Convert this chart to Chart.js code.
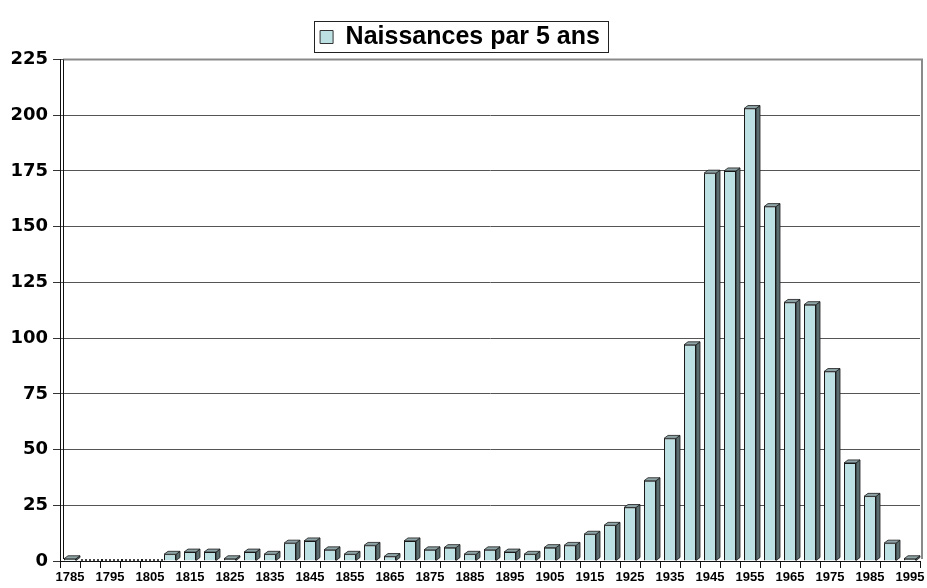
<!DOCTYPE html>
<html>
<head>
<meta charset="utf-8">
<title>Naissances par 5 ans</title>
<script src="https://cdn.jsdelivr.net/npm/chart.js@4/dist/chart.umd.min.js"></script>
<style>
  html, body { margin: 0; padding: 0; background: #ffffff; }
  #wrap { width: 927px; height: 588px; }
</style>
</head>
<body>
<div id="wrap"><canvas id="c" width="927" height="588"></canvas></div>
<script>
// Five-year periods (start year of each period)
const periods = ['1785','1790','1795','1800','1805','1810','1815','1820','1825','1830',
  '1835','1840','1845','1850','1855','1860','1865','1870','1875','1880',
  '1885','1890','1895','1900','1905','1910','1915','1920','1925','1930',
  '1935','1940','1945','1950','1955','1960','1965','1970','1975','1980',
  '1985','1990','1995'];

// Number of births in each five-year period
const births = [1, 0, 0, 0, 0, 3, 4, 4, 1, 4,
  3, 8, 9, 5, 3, 7, 2, 9, 5, 6,
  3, 5, 4, 3, 6, 7, 12, 16, 24, 36,
  55, 97, 174, 175, 203, 159, 116, 115, 85, 44,
  29, 8, 1];

const seriesName = 'Naissances par 5 ans';
const yTicks = [0, 25, 50, 75, 100, 125, 150, 175, 200, 225];

const FRONT = '#bde0e3';
const SIDE = '#5b6f70';
const TOP = '#8ea4a6';
const DX = 4, DY = 3;

// Extrudes each bar to give it a side and a top face
const extrude = {
  id: 'extrude',
  afterDatasetsDraw(chart) {
    const ctx = chart.ctx;
    const meta = chart.getDatasetMeta(0);
    ctx.save();
    ctx.lineWidth = 0.8;
    ctx.strokeStyle = '#1a1a1a';
    meta.data.forEach((bar, i) => {
      if (!births[i]) return;
      const p = bar.getProps(['x', 'y', 'base', 'width'], true);
      const l = p.x - p.width / 2, r = p.x + p.width / 2;
      // side
      ctx.beginPath();
      ctx.moveTo(r, p.y);
      ctx.lineTo(r + DX, p.y - DY);
      ctx.lineTo(r + DX, p.base - DY);
      ctx.lineTo(r, p.base);
      ctx.closePath();
      ctx.fillStyle = SIDE;
      ctx.fill();
      ctx.stroke();
      // top
      ctx.beginPath();
      ctx.moveTo(l, p.y);
      ctx.lineTo(l + DX, p.y - DY);
      ctx.lineTo(r + DX, p.y - DY);
      ctx.lineTo(r, p.y);
      ctx.closePath();
      ctx.fillStyle = TOP;
      ctx.fill();
      ctx.stroke();
    });
    ctx.restore();
  }
};

// Frame of the plot: back wall edge, top and right borders, empty-period markers, legend outline
const frame = {
  id: 'frame',
  beforeDatasetsDraw(chart) {
    const {ctx, chartArea: a} = chart;
    ctx.save();
    ctx.strokeStyle = '#8a8a8a';
    ctx.lineWidth = 2;
    ctx.beginPath();
    ctx.moveTo(a.left + 3, a.top);
    ctx.lineTo(a.right + 2, a.top);
    ctx.lineTo(a.right + 2, a.bottom - 2);
    ctx.stroke();
    ctx.strokeStyle = '#111';
    ctx.lineWidth = 1;
    ctx.beginPath();
    ctx.moveTo(a.left + 3.5, a.top);
    ctx.lineTo(a.left + 3.5, a.bottom - 2);
    ctx.stroke();
    // flat outline for periods without births
    const meta = chart.getDatasetMeta(0);
    ctx.setLineDash([2, 2]);
    ctx.lineWidth = 1.5;
    meta.data.forEach((bar, i) => {
      if (births[i]) return;
      const p = bar.getProps(['x', 'base', 'width'], true);
      ctx.beginPath();
      ctx.moveTo(p.x - p.width / 2 - 3, p.base - 1);
      ctx.lineTo(p.x + p.width / 2 + DX + 3, p.base - 1);
      ctx.stroke();
    });
    ctx.restore();
  },
  afterDraw(chart) {
    const lg = chart.legend;
    if (!lg || !lg.legendHitBoxes || !lg.legendHitBoxes.length) return;
    const hb = lg.legendHitBoxes[0];
    const ctx = chart.ctx;
    ctx.save();
    ctx.strokeStyle = '#222';
    ctx.lineWidth = 1;
    ctx.strokeRect(Math.round(hb.left - 6) + 0.5, Math.round(hb.top - 4) + 0.5,
      Math.round(hb.width + 14), Math.round(hb.height + 6));
    ctx.restore();
  }
};

new Chart(document.getElementById('c'), {
  type: 'bar',
  data: {
    labels: periods,
    datasets: [{
      label: seriesName,
      data: births,
      backgroundColor: FRONT,
      borderColor: '#1a1a1a',
      borderWidth: 1,
      barPercentage: 0.6,
      categoryPercentage: 1.0
    }]
  },
  options: {
    responsive: false,
    animation: false,
    events: [],
    layout: { padding: { top: 21, right: 7, bottom: 0, left: 0 } },
    plugins: {
      tooltip: { enabled: false },
      legend: {
        display: true,
        position: 'top',
        labels: {
          color: '#000',
          font: { family: 'Liberation Sans, Arial, sans-serif', size: 25, weight: 'bold' },
          boxWidth: 13,
          boxHeight: 13,
          padding: 3.5,
          generateLabels(chart) {
            return [{
              text: seriesName,
              fillStyle: FRONT,
              strokeStyle: '#333',
              lineWidth: 1,
              datasetIndex: 0
            }];
          }
        }
      }
    },
    scales: {
      x: {
        offset: true,
        border: { display: true, color: '#111', width: 1 },
        grid: { display: true, drawOnChartArea: false, drawTicks: true, tickLength: 7, color: '#111', offset: true },
        ticks: {
          autoSkip: false,
          maxRotation: 0,
          minRotation: 0,
          padding: 2,
          color: '#000',
          font: { family: 'Liberation Sans, Arial, sans-serif', size: 13, weight: 'bold' },
          callback(v, i) { return i % 2 === 0 ? periods[i] : ''; }
        },
        afterFit(s) { s.height = 27; }
      },
      y: {
        min: yTicks[0],
        max: yTicks[yTicks.length - 1],
        border: { display: true, color: '#111', width: 1 },
        grid: { color: '#555', lineWidth: 1, drawTicks: true, tickLength: 7, tickColor: '#333' },
        afterBuildTicks(s) { s.ticks = yTicks.map(v => ({ value: v })); },
        ticks: {
          padding: 5,
          color: '#000',
          font: { family: 'DejaVu Sans, sans-serif', size: 18, weight: 'bold' }
        },
        afterFit(s) { s.width = 60; }
      }
    }
  },
  plugins: [frame, extrude]
});
</script>
</body>
</html>
